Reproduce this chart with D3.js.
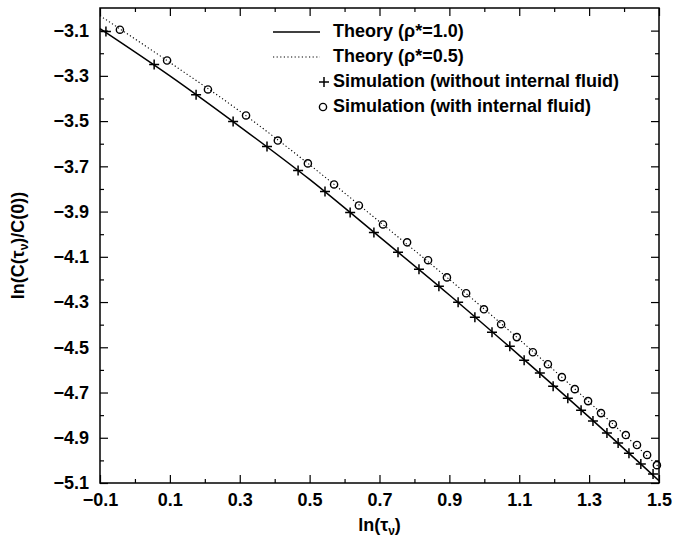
<!DOCTYPE html>
<html>
<head>
<meta charset="utf-8">
<script src="https://cdn.jsdelivr.net/npm/d3@7"></script>
<style>
	body { margin: 0; background: #fff; }
	svg { display: block; }
	text { font-family: "Liberation Sans", Arial, sans-serif; font-weight: bold; fill: #000; }
</style>
</head>
<body>
<svg id="chart" width="674" height="542"></svg>
<script>
// theory curves
var theoryX = [-0.1, 0.1, 0.3, 0.5, 0.7, 0.9, 1.1, 1.3, 1.5];
var theory10 = [-3.091, -3.300, -3.524, -3.758, -4.012, -4.269, -4.536, -4.809, -5.090];
var theory05 = [-3.034, -3.241, -3.456, -3.693, -3.945, -4.200, -4.465, -4.742, -5.030];

// simulation without internal fluid (+)
var simNoFluidX = [-0.083, 0.055, 0.175, 0.281, 0.378, 0.467, 0.544, 0.616, 0.684, 0.753,
	0.813, 0.870, 0.925, 0.973, 1.022, 1.073, 1.114, 1.159, 1.197, 1.239,
	1.277, 1.311, 1.351, 1.383, 1.414, 1.448, 1.483];
var simNoFluidY = [-3.104, -3.250, -3.383, -3.502, -3.612, -3.718, -3.811, -3.904, -3.992, -4.080,
	-4.155, -4.230, -4.301, -4.367, -4.433, -4.495, -4.557, -4.614, -4.672, -4.725,
	-4.778, -4.826, -4.879, -4.923, -4.968, -5.016, -5.060];

// simulation with internal fluid (o)
var simFluidX = [-0.043, 0.092, 0.209, 0.318, 0.409, 0.495, 0.570, 0.641, 0.710, 0.779,
	0.839, 0.893, 0.948, 0.999, 1.048, 1.093, 1.139, 1.182, 1.222, 1.259,
	1.297, 1.334, 1.368, 1.405, 1.437, 1.466, 1.494];
var simFluidY = [-3.096, -3.232, -3.360, -3.475, -3.586, -3.687, -3.780, -3.873, -3.957, -4.036,
	-4.115, -4.191, -4.261, -4.332, -4.398, -4.455, -4.522, -4.575, -4.632, -4.685,
	-4.738, -4.791, -4.840, -4.888, -4.932, -4.976, -5.021];

var xTicks = [-0.1, 0.1, 0.3, 0.5, 0.7, 0.9, 1.1, 1.3, 1.5];
var xMinor = [0.0, 0.2, 0.4, 0.6, 0.8, 1.0, 1.2, 1.4];
var yTicks = [-3.1, -3.3, -3.5, -3.7, -3.9, -4.1, -4.3, -4.5, -4.7, -4.9, -5.1];
var yMinor = [-3.2, -3.4, -3.6, -3.8, -4.0, -4.2, -4.4, -4.6, -4.8, -5.0];

var legendLabels = ['Theory (\u03c1*=1.0)', 'Theory (\u03c1*=0.5)',
	'Simulation (without internal fluid)', 'Simulation (with internal fluid)'];

var margin = {top: 8, right: 15, bottom: 59, left: 100};
var svg = d3.select('#chart');
var width = 674 - margin.left - margin.right;
var height = 542 - margin.top - margin.bottom;

var x = d3.scaleLinear().domain([-0.1, 1.5]).range([0, width]);
var y = d3.scaleLinear().domain([-5.1, -3.0]).range([height, 0]);
var fmt = d3.format('.1f');

var g = svg.append('g').attr('transform', 'translate(' + margin.left + ',' + margin.top + ')');

function zip(xs, ys) {
	return xs.map(function (v, i) { return [v, ys[i]]; });
}

function styleAxis(sel) {
	sel.select('.domain').remove();
	sel.selectAll('line').attr('stroke', '#000').attr('stroke-width', 1.2);
	sel.selectAll('text').style('font-size', '18px');
}

// major + minor ticks on all four sides, pointing inward
g.append('g').attr('transform', 'translate(0,' + height + ')')
	.call(d3.axisBottom(x).tickValues(xTicks).tickFormat(fmt).tickSize(-8).tickPadding(10))
	.call(styleAxis);
g.append('g').attr('transform', 'translate(0,' + height + ')')
	.call(d3.axisBottom(x).tickValues(xMinor).tickFormat('').tickSize(-4))
	.call(styleAxis);
g.append('g')
	.call(d3.axisTop(x).tickValues(xTicks).tickFormat('').tickSize(-8))
	.call(styleAxis);
g.append('g')
	.call(d3.axisTop(x).tickValues(xMinor).tickFormat('').tickSize(-4))
	.call(styleAxis);
g.append('g')
	.call(d3.axisLeft(y).tickValues(yTicks).tickFormat(fmt).tickSize(-8).tickPadding(11))
	.call(styleAxis);
g.append('g')
	.call(d3.axisLeft(y).tickValues(yMinor).tickFormat('').tickSize(-4))
	.call(styleAxis);
g.append('g').attr('transform', 'translate(' + width + ',0)')
	.call(d3.axisRight(y).tickValues(yTicks).tickFormat('').tickSize(-8))
	.call(styleAxis);
g.append('g').attr('transform', 'translate(' + width + ',0)')
	.call(d3.axisRight(y).tickValues(yMinor).tickFormat('').tickSize(-4))
	.call(styleAxis);

g.append('rect')
	.attr('width', width).attr('height', height)
	.attr('fill', 'none').attr('stroke', '#000').attr('stroke-width', 1.5);

var line = d3.line()
	.x(function (d) { return x(d[0]); })
	.y(function (d) { return y(d[1]); })
	.curve(d3.curveMonotoneX);

g.append('path').datum(zip(theoryX, theory10))
	.attr('d', line).attr('fill', 'none').attr('stroke', '#000').attr('stroke-width', 1.5);
g.append('path').datum(zip(theoryX, theory05))
	.attr('d', line).attr('fill', 'none').attr('stroke', '#000').attr('stroke-width', 1.1)
	.attr('stroke-dasharray', '1.2,2.4');

function crossPath(cx, cy, r) {
	return 'M' + (cx - r) + ',' + cy + 'h' + (2 * r) + 'M' + cx + ',' + (cy - r) + 'v' + (2 * r);
}

g.selectAll('path.cross').data(zip(simNoFluidX, simNoFluidY)).enter()
	.append('path').attr('class', 'cross')
	.attr('d', function (d) { return crossPath(x(d[0]), y(d[1]), 5); })
	.attr('stroke', '#000').attr('stroke-width', 1.5);

g.selectAll('circle.sim').data(zip(simFluidX, simFluidY)).enter()
	.append('circle').attr('class', 'sim')
	.attr('cx', function (d) { return x(d[0]); })
	.attr('cy', function (d) { return y(d[1]); })
	.attr('r', 3.6)
	.attr('fill', 'none').attr('stroke', '#000').attr('stroke-width', 1.4);

// legend
var legend = svg.append('g');
var rowY = [37, 62, 87, 112];

legend.selectAll('text').data(legendLabels).enter()
	.append('text')
	.attr('x', 333)
	.attr('y', function (d, i) { return rowY[i]; })
	.style('font-size', '18px')
	.text(function (d) { return d; });

legend.append('line').attr('x1', 273).attr('x2', 320).attr('y1', rowY[0] - 5).attr('y2', rowY[0] - 5)
	.attr('stroke', '#000').attr('stroke-width', 1.5);
legend.append('line').attr('x1', 273).attr('x2', 320).attr('y1', rowY[1] - 5).attr('y2', rowY[1] - 5)
	.attr('stroke', '#000').attr('stroke-width', 1.1).attr('stroke-dasharray', '1.2,2.4');
legend.append('path').attr('d', crossPath(324, rowY[2] - 5, 5))
	.attr('stroke', '#000').attr('stroke-width', 1.5);
legend.append('circle').attr('cx', 323).attr('cy', rowY[3] - 5).attr('r', 3.6)
	.attr('fill', 'none').attr('stroke', '#000').attr('stroke-width', 1.4);

// axis titles
var xTitle = svg.append('text')
	.attr('x', margin.left + width / 2).attr('y', 531)
	.attr('text-anchor', 'middle').style('font-size', '18px');
xTitle.append('tspan').text('ln(\u03c4');
xTitle.append('tspan').attr('dy', 4).style('font-size', '12px').text('\u03bd');
xTitle.append('tspan').attr('dy', -4).text(')');

var yTitle = svg.append('text')
	.attr('transform', 'translate(24,' + (margin.top + height / 2) + ') rotate(-90)')
	.attr('text-anchor', 'middle').style('font-size', '18px');
yTitle.append('tspan').text('ln(C(\u03c4');
yTitle.append('tspan').attr('dy', 4).style('font-size', '12px').text('\u03bd');
yTitle.append('tspan').attr('dy', -4).text(')/C(0))');
</script>
</body>
</html>
